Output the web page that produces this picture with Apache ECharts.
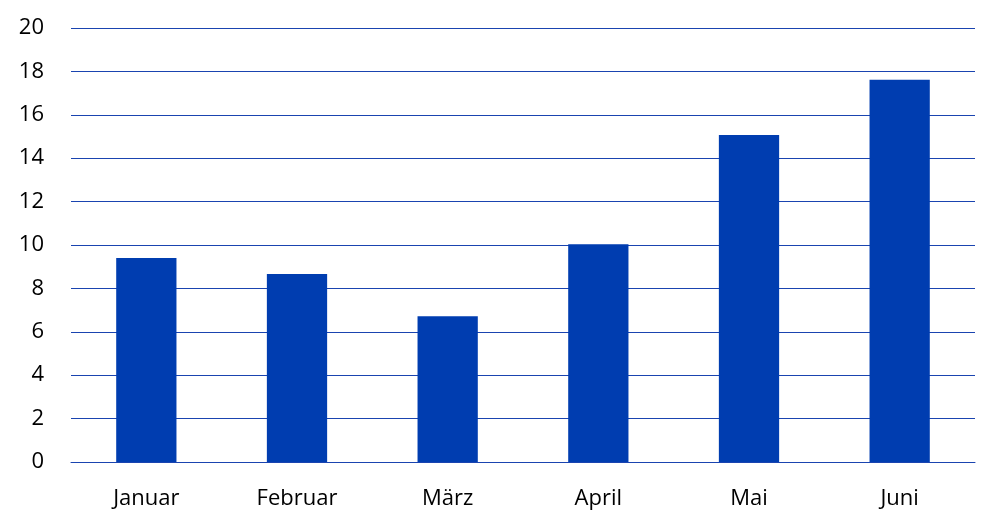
<!DOCTYPE html>
<html><head><meta charset="utf-8">
<script src="https://cdn.jsdelivr.net/npm/echarts@6/dist/echarts.min.js"></script>
<style>html,body{margin:0;padding:0;background:#fff}#c{width:999px;height:530px}</style>
</head><body><div id="c"></div>
<script>
const categories = ["Januar","Februar","März","April","Mai","Juni"];
const values = [9.4, 8.66, 6.72, 10.04, 15.07, 17.61];
const yTicks = [0,2,4,6,8,10,12,14,16,18,20];

const chart = echarts.init(document.getElementById('c'), null, {renderer:'canvas'});
chart.setOption({
  animation:false,
  grid:{left:71, right:24, top:28, bottom:68, containLabel:false},
  xAxis:{type:'category', data:categories,
    axisLine:{lineStyle:{color:'#1a44b0', width:1}},
    axisTick:{show:false},
    axisLabel:{color:'#000', fontSize:22, fontFamily:'Open Sans, Liberation Sans, sans-serif', margin:26}},
  yAxis:{type:'value', min:yTicks[0], max:yTicks[yTicks.length-1], interval:2,
    axisLine:{show:false}, axisTick:{show:false},
    splitLine:{lineStyle:{color:'#1a44b0', width:1}},
    axisLabel:{color:'#000', fontSize:22, fontFamily:'Open Sans, Liberation Sans, sans-serif', margin:27}},
  series:[{type:'bar', data:values, barWidth:'40%', itemStyle:{color:'#003DB0'}}]
});
</script></body></html>
